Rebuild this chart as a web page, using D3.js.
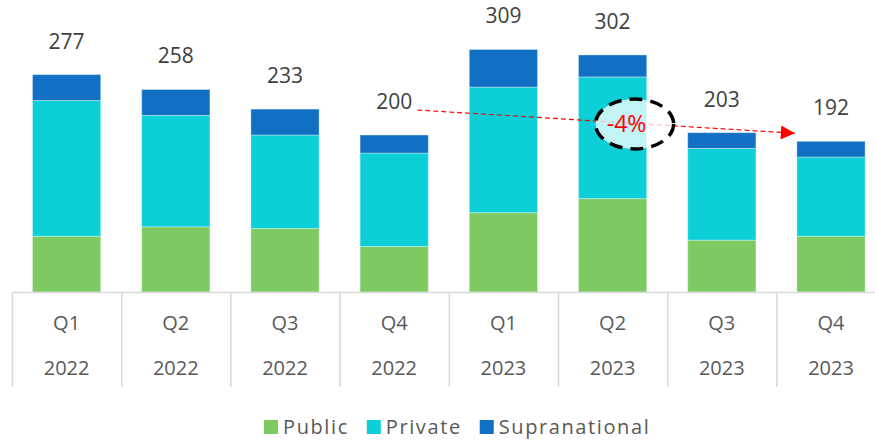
<!DOCTYPE html>
<html>
<head>
<meta charset="utf-8">
<script src="https://cdn.jsdelivr.net/npm/d3@7"></script>
<style>
  body { margin: 0; background: #fff; }
  svg { display: block; font-family: "Open Sans", sans-serif; }
</style>
</head>
<body>
<svg id="drawing_region"></svg>
<script>
// data
const categories = ['2022Q1', '2022Q2', '2022Q3', '2022Q4', '2023Q1', '2023Q2', '2023Q3', '2023Q4'];
const quarters = ['Q1', 'Q2', 'Q3', 'Q4', 'Q1', 'Q2', 'Q3', 'Q4'];
const years = ['2022', '2022', '2022', '2022', '2023', '2023', '2023', '2023'];
const seriesNames = ['Public', 'Private', 'Supranational'];
const publicValues = [71, 83, 81, 58, 101, 119, 66, 71];
const privateValues = [173, 142, 119, 119, 160, 155, 117, 101];
const supraValues = [33, 33, 33, 23, 48, 28, 20, 20];
const totals = [277, 258, 233, 200, 309, 302, 203, 192];
const colors = ['#7dca63', '#0dcfd8', '#1170c4'];

const width = 875, height = 440;
const svg = d3.select('#drawing_region')
    .attr('width', width)
    .attr('height', height);

const baseY = 292;
const x = d3.scaleBand()
    .domain(categories)
    .range([12, 12 + 8 * 109.2])
    .paddingInner(0.375)
    .paddingOuter(0.1875);

const y = d3.scaleLinear()
    .domain([0, 372])
    .range([baseY, 0]);

const table = categories.map((c, i) => ({
    cat: c,
    Public: publicValues[i],
    Private: privateValues[i],
    Supranational: supraValues[i]
}));
const stacked = d3.stack().keys(seriesNames)(table);

// bars
svg.append('g').selectAll('g')
    .data(stacked)
    .join('g')
    .attr('fill', (d, i) => colors[i])
    .selectAll('rect')
    .data(d => d)
    .join('rect')
    .attr('x', d => x(d.data.cat))
    .attr('y', d => y(d[1]))
    .attr('width', x.bandwidth())
    .attr('height', d => y(d[0]) - y(d[1]))
    .attr('stroke', 'rgba(255,255,255,0.35)')
    .attr('stroke-width', 1);

// total labels
svg.append('g').selectAll('text')
    .data(categories)
    .join('text')
    .attr('x', d => x(d) + x.bandwidth() / 2)
    .attr('y', (d, i) => y(totals[i]) - 26)
    .attr('text-anchor', 'middle')
    .attr('font-size', 21)
    .attr('fill', '#404040')
    .text((d, i) => totals[i]);

// category axis (boxed style)
const axis = svg.append('g').attr('stroke', '#d9d9d9').attr('stroke-width', 1.5);
axis.append('line')
    .attr('x1', x.range()[0]).attr('x2', width)
    .attr('y1', baseY + 0.5).attr('y2', baseY + 0.5);
const gap = x.step() - x.bandwidth();
axis.selectAll('line.div')
    .data(categories)
    .join('line')
    .attr('class', 'div')
    .attr('x1', d => x(d) - gap / 2 + 0.5)
    .attr('x2', d => x(d) - gap / 2 + 0.5)
    .attr('y1', baseY)
    .attr('y2', 387);

const labels = svg.append('g')
    .attr('text-anchor', 'middle')
    .attr('font-size', 20)
    .attr('fill', '#595959');
labels.selectAll('text.q')
    .data(categories)
    .join('text')
    .attr('class', 'q')
    .attr('x', d => x(d) + x.bandwidth() / 2)
    .attr('y', 330)
    .text((d, i) => quarters[i]);
labels.selectAll('text.yr')
    .data(categories)
    .join('text')
    .attr('class', 'yr')
    .attr('x', d => x(d) + x.bandwidth() / 2)
    .attr('y', 375)
    .text((d, i) => years[i]);

// annotation: trend arrow and -4% bubble
const from = 3, to = 7;
const ax1 = x(categories[from]) + x.bandwidth() / 2 + 23;
const ay1 = y(totals[from]) - 25;
const ax2 = x(categories[to]) - 2;
const ay2 = y(totals[to]) - 8;
svg.append('defs').append('marker')
    .attr('id', 'arrow')
    .attr('viewBox', '0 0 10 10')
    .attr('refX', 10).attr('refY', 5)
    .attr('markerWidth', 16).attr('markerHeight', 14)
    .attr('markerUnits', 'userSpaceOnUse')
    .attr('orient', 'auto')
    .append('path')
    .attr('d', 'M0,0L10,5L0,10Z')
    .attr('fill', '#ff0000');
svg.append('line')
    .attr('x1', ax1).attr('y1', ay1)
    .attr('x2', ax2).attr('y2', ay2)
    .attr('stroke', '#ff0000')
    .attr('stroke-width', 1.2)
    .attr('stroke-dasharray', '5,3')
    .attr('marker-end', 'url(#arrow)');

const ex = x(categories[5]) + x.bandwidth() / 2 + 22;
const ey = 124;
svg.append('ellipse')
    .attr('cx', ex).attr('cy', ey)
    .attr('rx', 39).attr('ry', 25)
    .attr('fill', 'rgba(255,255,255,0.75)')
    .attr('stroke', '#000')
    .attr('stroke-width', 3.5)
    .attr('stroke-dasharray', '13,8');
svg.append('text')
    .attr('x', ex - 8).attr('y', ey + 8)
    .attr('text-anchor', 'middle')
    .attr('font-size', 23)
    .attr('fill', '#ff0000')
    .text('-4%');

// legend
const legend = svg.append('g').attr('font-size', 20).attr('fill', '#595959');
let lx = 264;
seriesNames.forEach((name, i) => {
    legend.append('rect')
        .attr('x', lx).attr('y', 420)
        .attr('width', 14).attr('height', 14)
        .attr('fill', colors[i]);
    const t = legend.append('text')
        .attr('x', lx + 19).attr('y', 434)
        .attr('letter-spacing', 1.6)
        .text(name);
    lx += 19 + t.node().getComputedTextLength() + 18;
});
</script>
</body>
</html>
